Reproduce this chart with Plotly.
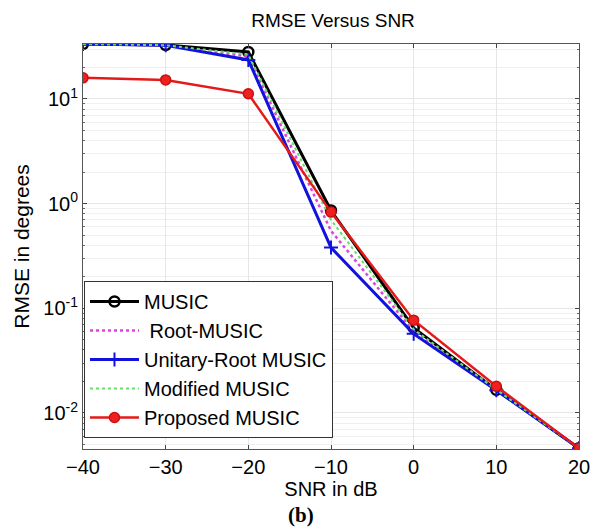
import plotly.graph_objects as go

snr = [-40, -30, -20, -10, 0, 10, 20]
music = [33.5, 32.8, 28.1, 0.86, 0.065, 0.0166, 0.0046]
root_music = [33.5, 32.5, 25.5, 0.55, 0.060, 0.0168, 0.0046]
unitary_root = [33.5, 32.5, 23.6, 0.38, 0.057, 0.0165, 0.0046]
modified_music = [33.5, 32.6, 26.5, 0.70, 0.063, 0.0167, 0.0046]
proposed_music = [15.9, 15.2, 11.2, 0.83, 0.077, 0.0180, 0.0046]

y_tickvals = [0.01, 0.1, 1, 10]
y_ticktext = ["10<sup>-2</sup>", "10<sup>-1</sup>", "10<sup>0</sup>", "10<sup>1</sup>"]
x_tickvals = [-40, -30, -20, -10, 0, 10, 20]

# page body has an 8px default margin; figure is sized to fit inside the 602x527 window
W, H = 594, 519
ML, MR, MT, MB = 75, 18, 36, 78
PW, PH = W - ML - MR, H - MT - MB

fig = go.Figure()
fig.add_trace(go.Scatter(x=snr, y=music, name="MUSIC", mode="lines+markers", legendgroup="a",
                         line=dict(color="black", width=3),
                         marker=dict(symbol="circle-open", size=10, color="black", line=dict(width=2.5))))
fig.add_trace(go.Scatter(x=snr, y=root_music, name="\u00a0Root-MUSIC", mode="lines", legendgroup="b",
                         line=dict(color="#dd44dd", width=2.5, dash="dot")))
fig.add_trace(go.Scatter(x=snr, y=unitary_root, name="Unitary-Root MUSIC", mode="lines+markers", legendgroup="c",
                         line=dict(color="#1212dd", width=3),
                         marker=dict(symbol="cross-thin", size=10, color="#1212dd", line=dict(width=2, color="#1212dd"))))
fig.add_trace(go.Scatter(x=snr, y=modified_music, name="Modified MUSIC", mode="lines", legendgroup="d",
                         line=dict(color="#66dd66", width=2, dash="dot")))
fig.add_trace(go.Scatter(x=snr, y=proposed_music, name="Proposed MUSIC", mode="lines+markers", legendgroup="e",
                         line=dict(color="#e41a1a", width=2.5),
                         marker=dict(symbol="circle", size=10, color="#ee2020", line=dict(width=1.5, color="#cc1010"))))

fig.update_layout(
    width=W, height=H,
    margin=dict(l=ML, r=MR, t=MT, b=MB),
    paper_bgcolor="white", plot_bgcolor="white",
    font=dict(family="Liberation Sans, Arial, sans-serif", color="black", size=20),
    title=dict(text="RMSE Versus SNR", x=325 / W, xanchor="center", y=1 - 12 / H, yanchor="middle",
               font=dict(size=19)),
    showlegend=True,
    legend=dict(x=1 / PW, y=1 - (281 - 8 - MT) / PH, xanchor="left", yanchor="top", bgcolor="white",
                bordercolor="#333", borderwidth=1, font=dict(size=20), itemwidth=49, entrywidth=258,
                traceorder="grouped", tracegroupgap=0),
    annotations=[dict(text="<b>(b)</b>", x=(295 - ML) / PW, y=(PH + MT - 507) / PH, xref="paper", yref="paper",
                      xanchor="center", yanchor="middle", showarrow=False,
                      font=dict(family="Liberation Serif, Times New Roman, serif", size=21))],
)
fig.update_xaxes(range=[-40, 20], tickvals=x_tickvals, ticks="inside", ticklen=4, tickcolor="#444",
                 showline=True, linecolor="#555", mirror="ticks", linewidth=1,
                 showgrid=True, gridcolor="#e6e6e6", zeroline=False,
                 tickfont=dict(size=20), title=dict(text="SNR in dB", font=dict(size=20), standoff=3))
fig.update_yaxes(type="log", range=[-2.344, 1.525], tickvals=y_tickvals, ticktext=y_ticktext,
                 ticks="inside", ticklen=4, tickcolor="#444",
                 showline=True, linecolor="#555", mirror="ticks", linewidth=1,
                 showgrid=True, gridcolor="#e6e6e6", zeroline=False,
                 minor=dict(showgrid=True, gridcolor="#f0f0f0", ticks="inside", ticklen=2, tickcolor="#666",
                            dtick="D1"),
                 tickfont=dict(size=20), title=dict(text="RMSE in degrees", font=dict(size=21), standoff=7))

fig.write_html("out.html")
